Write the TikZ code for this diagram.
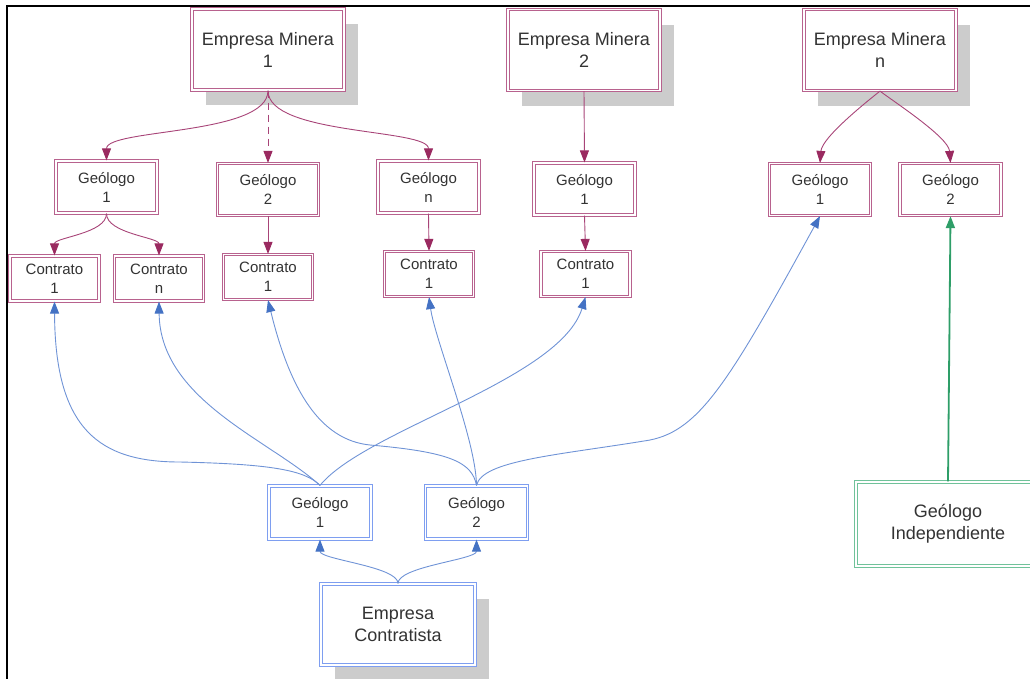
\documentclass[tikz,border=0pt]{standalone}
\usepackage{fontspec}
\setmainfont{Liberation Sans}
\usetikzlibrary{arrows.meta}
\definecolor{pinkb}{HTML}{B8628E}
\definecolor{pinkline}{HTML}{A84478}
\definecolor{pinkarrow}{HTML}{9A2A60}
\definecolor{blueb}{HTML}{7E9EF0}
\definecolor{blueline}{HTML}{6F93D6}
\definecolor{bluearrow}{HTML}{4472C4}
\definecolor{greenb}{HTML}{70C29A}
\definecolor{greenarrow}{HTML}{2E9E68}
\definecolor{shadowgray}{HTML}{CCCCCC}
\definecolor{txt}{HTML}{333333}
\begin{document}
\begin{tikzpicture}[x=1pt,y=-1pt,
  box/.style={rectangle, fill=white, line width=1.2pt, double=white, double distance=1.4pt,
    align=center, text=txt, inner sep=0pt},
  pinkbox/.style={box, draw=pinkb},
  bluebox/.style={box, draw=blueb},
  greenbox/.style={box, draw=greenb},
  big/.style={font=\fontsize{18}{22}\selectfont},
  small/.style={font=\fontsize{15}{19}\selectfont},
  shad/.style={preaction={draw=none, fill=shadowgray, transform canvas={shift={(14pt,-15pt)}}}},
  empbox/.style={big, shad, minimum width=152pt, minimum height=81pt},
  geobox/.style={small, minimum width=101pt, minimum height=52pt},
  conbox/.style={small, minimum width=89pt, minimum height=45pt},
  parr/.style={draw=pinkline, line width=0.9pt, -{Triangle[length=12pt,width=9pt,color=pinkarrow]}},
  barr/.style={draw=blueline, line width=0.9pt, -{Triangle[length=12pt,width=9pt,color=bluearrow]}},
  garr/.style={draw=greenarrow, line width=1.8pt, -{Triangle[length=12pt,width=9pt]}}
]
\useasboundingbox (0,0) rectangle (1030,678);
\clip (0,0) rectangle (1030,678);

% frame
\draw[line width=2pt] (7,679) -- (7,6) -- (1031,6);

% mining companies
\node[pinkbox, empbox] (em1) at (268,49.5) {Empresa Minera\\1};
\node[pinkbox, empbox] (em2) at (584,50) {Empresa Minera\\2};
\node[pinkbox, empbox] (emn) at (880,50) {Empresa Minera\\n};

% geologists of mining companies
\node[pinkbox, geobox] (g1a) at (106.5,187) {Geólogo\\1};
\node[pinkbox, geobox] (g2a) at (268,189.5) {Geólogo\\2};
\node[pinkbox, geobox] (gna) at (428.5,187) {Geólogo\\n};
\node[pinkbox, geobox] (g1b) at (584.5,189) {Geólogo\\1};
\node[pinkbox, geobox] (g1c) at (820,189.5) {Geólogo\\1};
\node[pinkbox, geobox] (g2c) at (950.5,189.5) {Geólogo\\2};

% contracts
\node[pinkbox, conbox] (c1a) at (54.5,278.5) {Contrato\\1};
\node[pinkbox, conbox] (cna) at (159,278.5) {Contrato\\n};
\node[pinkbox, conbox] (c2a) at (268,277) {Contrato\\1};
\node[pinkbox, conbox] (cgn) at (429,274) {Contrato\\1};
\node[pinkbox, conbox] (cb) at (585.5,274) {Contrato\\1};

% contractor
\node[bluebox, geobox, minimum width=102pt, minimum height=53pt] (gb1) at (320,512.5) {Geólogo\\1};
\node[bluebox, geobox, minimum width=102pt, minimum height=53pt] (gb2) at (476.5,512.5) {Geólogo\\2};
\node[bluebox, empbox, minimum width=154pt] (ec) at (398,624.5) {Empresa\\Contratista};

% independent
\node[greenbox, big, minimum width=184pt, minimum height=84pt] (ind) at (948,524) {Geólogo\\Independiente};

% pink connectors
\draw[parr] (em1.south) .. controls +(0,45) and +(0,-32) .. (g1a.north);
\draw[parr, dash pattern=on 7pt off 5pt] (em1.south) -- (g2a.north);
\draw[parr] (em1.south) .. controls +(0,45) and +(0,-32) .. (gna.north);
\draw[parr] (em2.south) -- (g1b.north);
\draw[parr] (emn.south) .. controls +(-10,8) and +(2,-26) .. (g1c.north);
\draw[parr] (emn.south) .. controls +(10,8) and +(-2,-26) .. (g2c.north);
\draw[parr] (g1a.south) .. controls +(0,20) and +(0,-18) .. (c1a.north);
\draw[parr] (g1a.south) .. controls +(0,20) and +(0,-18) .. (cna.north);
\draw[parr] (g2a.south) -- (c2a.north);
\draw[parr] (gna.south) -- (cgn.north);
\draw[parr] (g1b.south) -- (cb.north);

% blue connectors
\draw[barr] (gb1.north) .. controls (305,470) and (270,464) .. (180,462)
  .. controls (100,462) and (55,430) .. (c1a.south);
\draw[barr] (gb1.north) .. controls (270,440) and (160,400) .. (cna.south);
\draw[barr] (gb1.north) .. controls (365,430) and (560,380) .. (cb.south);
\draw[barr] (gb2.north) .. controls (472,462) and (450,452) .. (370,445)
  .. controls (320,440) and (290,390) .. (c2a.south);
\draw[barr] (gb2.north) .. controls (476,440) and (435,340) .. (cgn.south);
\draw[barr] (gb2.north) .. controls (482,460) and (560,455) .. (650,440)
  .. controls (700,430) and (730,380) .. (g1c.south);
\draw[barr] (ec.north) .. controls +(0,-17) and +(0,20) .. (gb1.south);
\draw[barr] (ec.north) .. controls +(0,-17) and +(0,20) .. (gb2.south);

% green connector
\draw[garr] (ind.north) -- (g2c.south);
\end{tikzpicture}
\end{document}
